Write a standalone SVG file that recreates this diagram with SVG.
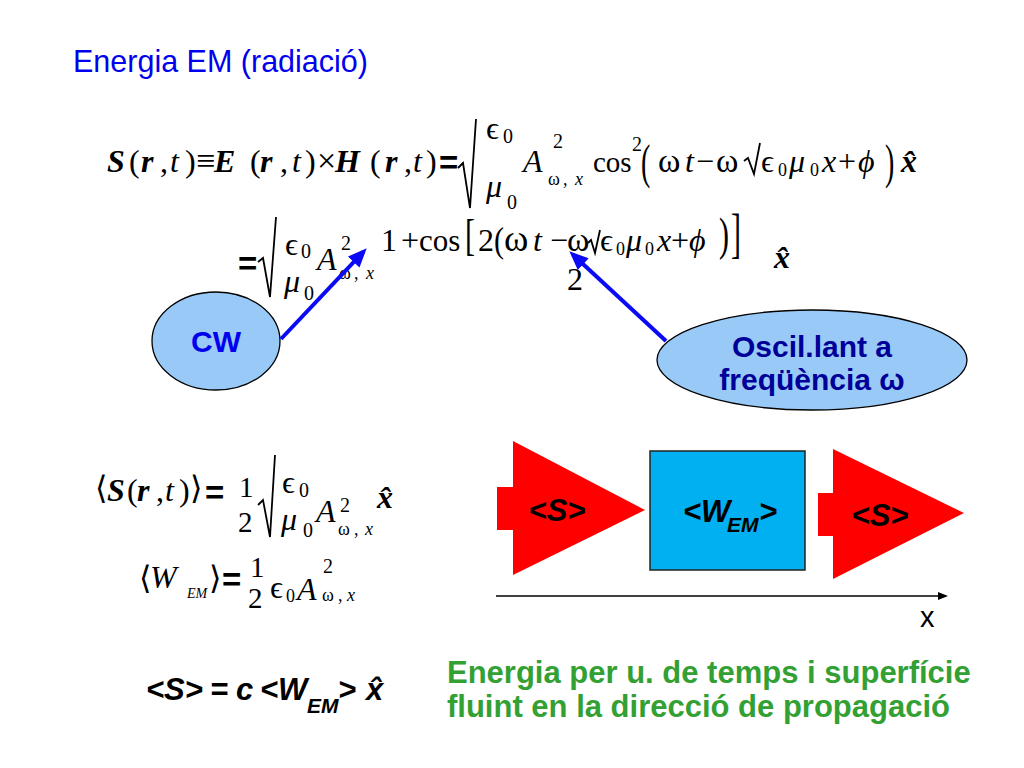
<svg xmlns="http://www.w3.org/2000/svg" width="1024" height="768" viewBox="0 0 1024 768">
<style>
.m{font-family:"Liberation Serif","DejaVu Serif",serif;font-size:32px;fill:#000}
.bi{font-weight:bold;font-style:italic}
.i{font-style:italic}
.b{font-weight:bold}
.eq{font-family:"Liberation Sans",Arial,sans-serif;font-size:33px;font-weight:bold}
.sp{font-size:20px}
.sb{font-size:18px}
.gk{font-size:32px}
.om{font-size:34px}
.fr{font-size:29px}
.rad{fill:none;stroke:#000;stroke-width:1.8;stroke-linejoin:miter}
.sans{font-family:"Liberation Sans",Arial,sans-serif}
.title{font-size:30.5px;fill:#0000ee}
.lbl{font-size:30px;font-weight:bold;text-anchor:middle}
.green{font-size:31px;font-weight:bold;fill:#33a033}
.arrtxt{font-size:31px;font-weight:bold;font-style:italic;fill:#000}
.rel{font-size:31px;font-weight:bold;font-style:italic;fill:#000}
.conn{stroke:#0a0af5;stroke-width:4;fill:none}
</style>
<defs>
<marker id="bh" markerUnits="userSpaceOnUse" markerWidth="20" markerHeight="16" refX="14" refY="8" orient="auto">
<path d="M0,0 L19,8 L0,16 z" fill="#0a0af5"/>
</marker>
<marker id="ah" markerUnits="userSpaceOnUse" markerWidth="10" markerHeight="8" refX="8" refY="4" orient="auto">
<path d="M0,0 L10,4 L0,8 z" fill="#000"/>
</marker>
</defs>
<rect width="1024" height="768" fill="#fff"/>

<text class="sans title" x="73" y="72">Energia EM (radiació)</text>

<!-- Equation 1 -->
<g id="eq1">
<text class="m bi" x="107" y="172">S</text>
<text class="m" x="129" y="172">(</text>
<text class="m bi" x="141" y="172">r</text>
<text class="m" x="160" y="172">,</text>
<text class="m i" x="170" y="172">t</text>
<text class="m" x="185" y="172">)</text>
<text class="m" x="196" y="172" style="font-size:34px">≡</text>
<text class="m bi" x="214" y="172">E</text>
<text class="m" x="250" y="172">(</text>
<text class="m bi" x="260" y="172">r</text>
<text class="m" x="280" y="172">,</text>
<text class="m i" x="292" y="172">t</text>
<text class="m" x="305" y="172">)</text>
<text class="m" x="317" y="172" style="font-size:34px">×</text>
<text class="m bi" x="335" y="172">H</text>
<text class="m" x="370" y="172">(</text>
<text class="m bi" x="385" y="172">r</text>
<text class="m" x="404" y="172">,</text>
<text class="m i" x="413" y="172">t</text>
<text class="m" x="426" y="172">)</text>
<text class="m eq" x="439" y="174">=</text>
<path class="rad" d="M458,168 L463,163 L470,208 L476,119"/>
<text class="m gk" x="486" y="139">ϵ</text>
<text class="m sp" x="503" y="143">0</text>
<text class="m i" x="486" y="197">μ</text>
<text class="m sp" x="507" y="209">0</text>
<text class="m i" x="523" y="172">A</text>
<text class="m sp" x="553" y="148">2</text>
<text class="m sb" x="548" y="185">ω</text>
<text class="m sb" x="563" y="185">,</text>
<text class="m sb i" x="575" y="185">x</text>
<text class="m" x="593" y="172" style="font-size:29px">cos</text>
<text class="m sp" x="632" y="151">2</text>
<text class="m" transform="translate(641,178) scale(1,1.7)" style="font-size:28px">(</text>
<text class="m om" x="658" y="172">ω</text>
<text class="m i" x="685" y="172">t</text>
<text class="m" x="696" y="172">−</text>
<text class="m om" x="716" y="172">ω</text>
<path class="rad" d="M744,161 L748,158 L754,174 L760,143"/>
<text class="m gk" x="761" y="172">ϵ</text>
<text class="m sb" x="778" y="176">0</text>
<text class="m i" x="789" y="172">μ</text>
<text class="m sb" x="810" y="176">0</text>
<text class="m i" x="822" y="172">x</text>
<text class="m" x="838" y="172">+</text>
<text class="m i" x="858" y="172">ϕ</text>
<text class="m" transform="translate(885,178) scale(1,1.7)" style="font-size:28px">)</text>
<text class="m bi" x="901" y="172">x̂</text>
</g>

<!-- Equation 2 -->
<g id="eq2">
<text class="m eq" x="238" y="275">=</text>
<path class="rad" d="M258,262 L263,258 L270,297 L276,217"/>
<text class="m gk" x="285" y="255">ϵ</text>
<text class="m sp" x="301" y="258">0</text>
<text class="m i" x="284" y="292">μ</text>
<text class="m sp" x="304" y="300">0</text>
<text class="m i" x="317" y="270">A</text>
<text class="m sp" x="341" y="250">2</text>
<text class="m sb" x="339" y="279">ω</text>
<text class="m sb" x="354" y="279">,</text>
<text class="m sb i" x="366" y="279">x</text>
<text class="m" x="381" y="251">1</text>
<text class="m" x="401" y="251">+</text>
<text class="m" x="419" y="251" style="font-size:31px">cos</text>
<text class="m" transform="translate(465,250) scale(1,1.45)" style="font-size:30px">[</text>
<text class="m" x="478" y="251">2</text>
<text class="m" transform="translate(494,252) scale(1,1.2)" style="font-size:30px">(</text>
<text class="m" x="504" y="251" style="font-size:37px">ω</text>
<text class="m i" x="533" y="251">t</text>
<text class="m" x="550" y="251">−</text>
<text class="m om" x="567" y="251">ω</text>
<path class="rad" d="M588,243 L591,240 L595,253 L600,230"/>
<text class="m gk" x="600" y="251">ϵ</text>
<text class="m sb" x="616" y="255">0</text>
<text class="m i" x="626" y="251">μ</text>
<text class="m sb" x="645" y="255">0</text>
<text class="m i" x="657" y="251">x</text>
<text class="m" x="671" y="251">+</text>
<text class="m i" x="689" y="251">ϕ</text>
<text class="m" transform="translate(719,250) scale(1,1.55)" style="font-size:30px">)</text>
<text class="m" transform="translate(731,252) scale(1,1.85)" style="font-size:30px">]</text>
<text class="m" x="567" y="290">2</text>
<text class="m bi" x="774" y="268">x̂</text>
</g>

<!-- Equation 3 -->
<g id="eq3">
<text class="m" x="95" y="499">⟨</text>
<text class="m bi" x="107" y="501">S</text>
<text class="m" x="127" y="501">(</text>
<text class="m bi" x="137" y="501">r</text>
<text class="m" x="156" y="501">,</text>
<text class="m i" x="165" y="501">t</text>
<text class="m" x="179" y="501">)</text>
<text class="m" x="190" y="499">⟩</text>
<text class="m eq" x="205" y="504">=</text>
<text class="m fr" x="239" y="497">1</text>
<text class="m fr" x="238" y="532">2</text>
<path class="rad" d="M258,505 L263,500 L270,537 L275,455"/>
<text class="m gk" x="282" y="493">ϵ</text>
<text class="m sp" x="299" y="497">0</text>
<text class="m i" x="281" y="530">μ</text>
<text class="m sp" x="303" y="537">0</text>
<text class="m i" x="316" y="522">A</text>
<text class="m sp" x="340" y="512">2</text>
<text class="m sb" x="338" y="535">ω</text>
<text class="m sb" x="354" y="535">,</text>
<text class="m sb i" x="365" y="535">x</text>
<text class="m bi" x="377" y="508">x̂</text>
</g>

<!-- Equation 4 -->
<g id="eq4">
<text class="m" x="139" y="589">⟨</text>
<text class="m i" x="150" y="588">W</text>
<text class="m i" x="187" y="598" style="font-size:14px">EM</text>
<text class="m" x="209" y="589">⟩</text>
<text class="m eq" x="222" y="591">=</text>
<text class="m fr" x="250" y="577">1</text>
<text class="m fr" x="248" y="608">2</text>
<text class="m gk" x="270" y="598">ϵ</text>
<text class="m sb" x="286" y="602">0</text>
<text class="m i" x="297" y="600">A</text>
<text class="m sp" x="323" y="573">2</text>
<text class="m sb" x="322" y="601">ω</text>
<text class="m sb" x="338" y="601">,</text>
<text class="m sb i" x="347" y="601">x</text>
</g>

<!-- Nodes -->
<g id="cw">
<ellipse cx="216" cy="341" rx="64" ry="49" fill="#99c9f7" stroke="#000" stroke-width="1.3"/>
<text class="sans lbl" x="216" y="352" fill="#0000ee">CW</text>
</g>
<g id="oscil">
<ellipse cx="812" cy="360" rx="155" ry="50" fill="#99c9f7" stroke="#000" stroke-width="1.3"/>
<text class="sans lbl" x="812" y="357" fill="#000099">Oscil.lant a</text>
<text class="sans lbl" x="812" y="390" fill="#000099">freqüència ω</text>
</g>

<g id="s-in">
<polygon points="497,487 513,487 513,441 645,510 513,575 513,530 497,530" fill="#ff0000"/>
<text class="sans arrtxt" x="557" y="521" text-anchor="middle">&lt;S&gt;</text>
</g>
<g id="wem">
<rect x="650" y="451" width="155" height="119" fill="#00b0f0" stroke="#222" stroke-width="1.5"/>
<text class="sans arrtxt" x="683" y="522">&lt;W</text>
<text class="sans arrtxt" x="727" y="532" style="font-size:21px">EM</text>
<text class="sans arrtxt" x="759" y="522">&gt;</text>
</g>
<g id="s-out">
<polygon points="818,493 833,493 833,449 964,513 833,579 833,536 818,536" fill="#ff0000"/>
<text class="sans arrtxt" x="880" y="526" text-anchor="middle">&lt;S&gt;</text>
</g>

<g id="axis">
<line x1="496" y1="596" x2="946" y2="596" stroke="#000" stroke-width="1.5" marker-end="url(#ah)"/>
<text class="sans" x="920" y="627" font-size="29">x</text>
</g>

<g id="connectors">
<line class="conn" x1="281" y1="339" x2="363.3" y2="251.9" marker-end="url(#bh)"/>
<line class="conn" x1="666" y1="341" x2="573" y2="254.7" marker-end="url(#bh)"/>
</g>

<g id="relation">
<text class="sans rel" x="146" y="700">&lt;S&gt;</text>
<text class="sans rel" x="210" y="700">=</text>
<text class="sans rel" x="236" y="700">c</text>
<text class="sans rel" x="260" y="700">&lt;W</text>
<text class="sans rel" x="307" y="713" style="font-size:21px">EM</text>
<text class="sans rel" x="338" y="700">&gt;</text>
<text class="sans rel" x="366" y="700">x̂</text>
</g>

<g id="caption">
<text class="sans green" x="447" y="683">Energia per u. de temps i superfície</text>
<text class="sans green" x="447" y="717">fluint en la direcció de propagació</text>
</g>
</svg>
